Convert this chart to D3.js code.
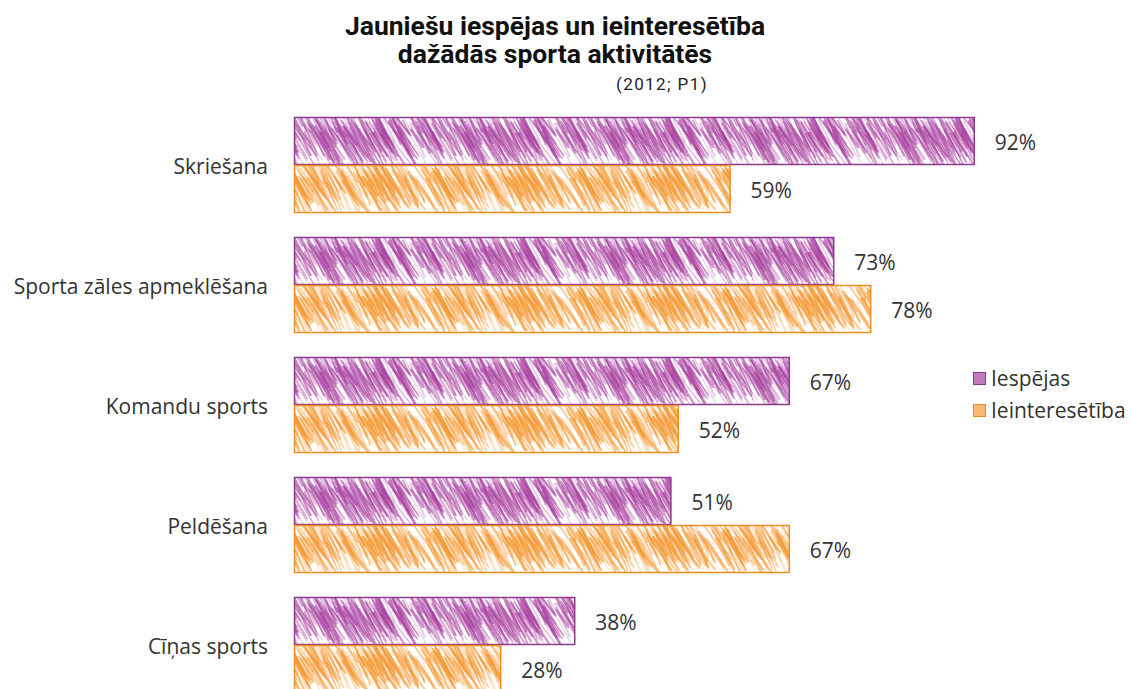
<!DOCTYPE html>
<html><head><meta charset="utf-8">
<script src="https://cdn.jsdelivr.net/npm/d3@7"></script>
<style>body{margin:0;background:#fff}svg{display:block}</style>
</head><body>
<script>
const categories = ["Skriešana","Sporta zāles apmeklēšana","Komandu sports","Peldēšana","Cīņas sports"];
const seriesNames = ["Iespējas","Ieinteresētība"];
const iespejas = [92,73,67,51,38];
const ieinteresetiba = [59,78,52,67,28];
const colors = ["#a8409f","#f59a36"];
const borders = ["#8c3a8c","#f08c24"];

const W=1131,H=689;
const svg=d3.select("body").append("svg").attr("width",W).attr("height",H);
const defs=svg.append("defs");
defs.append("filter").attr("id","soft").attr("filterUnits","userSpaceOnUse")
  .attr("x",-20).attr("y",-20).attr("width",185).attr("height",90)
  .append("feGaussianBlur").attr("stdDeviation",0.6);

// sketchy hatch strokes (decorative texture only)
let seed=11;function rnd(){seed=(seed*16807)%2147483647;return (seed-1)/2147483646;}
const TW=145;
const strokes=colors.map(()=>{
  const arr=[];
  for(let k=0;k<210;k++){
    const x0=rnd()*TW, y0=-6+rnd()*24, len=16+rnd()*34;
    const ang=(52+rnd()*16)*Math.PI/180;
    arr.push({x0,y0,x1:x0+len*Math.cos(ang),y1:y0+len*Math.sin(ang),w:0.8+rnd()*1.8,o:0.2+rnd()*0.45});
  }
  return arr;
});
function makePattern(id,si,top){
  const p=defs.append("pattern").attr("id",id).attr("patternUnits","userSpaceOnUse")
    .attr("width",TW).attr("height",48).attr("x",294).attr("y",top);
  p.append("rect").attr("width",TW).attr("height",48).attr("fill","#fff");
  const gg=p.append("g").attr("filter","url(#soft)");
  [-TW,0].forEach(dx=>{
    strokes[si].forEach(s=>{
      gg.append("line").attr("x1",s.x0+dx).attr("y1",s.y0).attr("x2",s.x1+dx).attr("y2",s.y1)
        .attr("stroke",colors[si]).attr("stroke-width",s.w).attr("stroke-opacity",s.o).attr("stroke-linecap","round");
    });
  });
}

const x=d3.scaleLinear().domain([0,100]).range([294,1034]);
const y=d3.scaleBand().domain(categories).range([117,693]).paddingInner(0.2).paddingOuter(0);
const sub=d3.scaleBand().domain(seriesNames).range([0,y.bandwidth()]);

// title
const t=svg.append("text").attr("text-anchor","middle").attr("font-family","Roboto, 'DejaVu Sans', sans-serif")
  .attr("font-weight","bold").attr("font-size",26.5).attr("fill","#111");
t.append("tspan").attr("x",555).attr("y",35).text("Jauniešu iespējas un ieinteresētība");
t.append("tspan").attr("x",555).attr("y",63).text("dažādās sporta aktivitātēs");
svg.append("text").attr("x",662).attr("y",90).attr("text-anchor","middle").attr("font-family","Roboto, sans-serif")
  .attr("font-size",17).attr("letter-spacing",1.4).attr("fill","#222").text("(2012; P1)");

const data=[iespejas,ieinteresetiba];
const g=svg.append("g");
const lf="'Open Sans', sans-serif";
categories.forEach((cat,ci)=>{
  seriesNames.forEach((s,si)=>{
    const v=data[si][ci];
    const y0=y(cat)+sub(s);
    const pid="h"+ci+"_"+si;
    makePattern(pid,si,y0);
    g.append("rect").attr("x",x(0)+0.5).attr("y",y0+0.5).attr("width",x(v)-x(0)-1).attr("height",sub.bandwidth()-1)
      .attr("fill","url(#"+pid+")").attr("stroke",borders[si]).attr("stroke-width",1.5);
    g.append("text").attr("x",x(v)+20).attr("y",y0+sub.bandwidth()/2).attr("dy","0.45em")
      .attr("font-family",lf).attr("font-size",21).attr("fill","#333").text(v+"%");
  });
  g.append("text").attr("x",268).attr("y",y(cat)+y.bandwidth()/2).attr("dy","0.42em").attr("text-anchor","end")
    .attr("font-family",lf).attr("font-size",21).attr("fill","#333").text(cat);
});

// legend
seriesNames.forEach((s,si)=>{
  const ly=372+si*32;
  svg.append("rect").attr("x",973.5).attr("y",ly+0.5).attr("width",12).attr("height",12)
    .attr("fill",colors[si]).attr("fill-opacity",0.7).attr("stroke",borders[si]);
  svg.append("text").attr("x",991).attr("y",ly+6).attr("dy","0.4em")
    .attr("font-family",lf).attr("font-size",21).attr("fill","#333").text(s);
});
</script>
</body></html>
